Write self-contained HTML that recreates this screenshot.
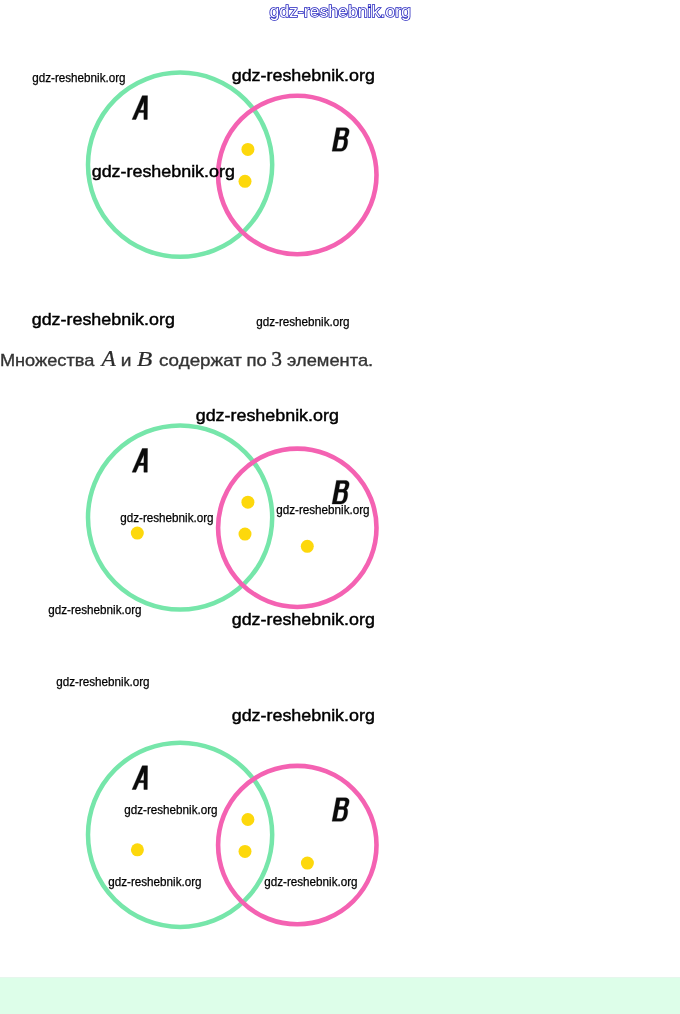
<!DOCTYPE html>
<html><head><meta charset="utf-8">
<style>
html,body{margin:0;padding:0;background:#fff;}
body{width:680px;height:1014px;overflow:hidden;position:relative;font-family:"Liberation Sans",sans-serif;}
svg{position:absolute;left:0;top:0;will-change:transform;}
.wl{font-family:"Liberation Sans",sans-serif;font-size:16.9px;fill:#000;stroke:#000;stroke-width:0.45px;}
.ws{font-family:"Liberation Sans",sans-serif;font-size:12px;fill:#000;stroke:#000;stroke-width:0.25px;}
.t{font-family:"Liberation Sans",sans-serif;font-size:17px;fill:#343434;stroke:#343434;stroke-width:0.35px;}
.m{font-family:"Liberation Serif",serif;font-style:italic;font-size:22px;fill:#2c2c2c;stroke:#2c2c2c;stroke-width:0.2px;}
.n{font-family:"Liberation Serif",serif;font-size:21.5px;fill:#2c2c2c;stroke:#2c2c2c;stroke-width:0.3px;}
.band{position:absolute;left:0;top:977px;width:680px;height:37px;background:#ddfee9;border-top:1px solid #e6f6ed;box-sizing:border-box;}
</style></head>
<body>
<div class="band"></div>
<svg width="680" height="1014" viewBox="0 0 680 1014">
<defs>
<g id="venn">
<circle cx="180.1" cy="164.7" r="92.1" fill="none" stroke="#76e6aa" stroke-width="4.5"/>
<circle cx="297.3" cy="175.0" r="79.2" fill="none" stroke="#f462b2" stroke-width="4.6"/>
<circle cx="247.9" cy="149.4" r="6.5" fill="#fdd80c"/>
<circle cx="245.0" cy="181.3" r="6.5" fill="#fdd80c"/>
<path fill="#0b0b0b" stroke="#0b0b0b" stroke-width="0.4" fill-rule="evenodd" d="M132.1,119.4 L142.3,95.7 L147.5,95.7 L147.3,119.4 L143.9,119.4 L143.9,112.6 L138.8,112.6 L135.9,119.4 Z M140.0,110.3 L143.9,110.3 L144.0,101.6 Z"/>
<path fill="#0b0b0b" stroke="#0b0b0b" stroke-width="0.3" fill-rule="evenodd" d="M332.06,151.2 L336.47,127.65 H344.8 C348.2,127.65 349.6,129.5 349.1,132.2 C348.7,134.6 347.9,136.4 346.3,137.7 C347.6,138.8 348.0,140.8 347.6,143.5 C347.0,147.6 345.0,151.2 341.0,151.2 Z M340.0,130.6 H343.8 C345.2,130.6 345.6,131.4 345.3,132.8 C344.9,135 344.2,136.5 342.6,136.5 H338.9 Z M338.35,139.4 H342.6 C344.0,139.4 344.4,140.5 344.1,142.2 C343.6,145.5 343.0,148.5 340.6,148.5 H336.6 Z"/>
</g>
</defs>
<use href="#venn"/>
<use href="#venn" y="352.8"/>
<use href="#venn" y="670.1"/>
<circle cx="137.3" cy="533.1" r="6.5" fill="#fdd80c"/>
<circle cx="307.3" cy="546.3" r="6.5" fill="#fdd80c"/>
<circle cx="137.4" cy="849.8" r="6.5" fill="#fdd80c"/>
<circle cx="307.4" cy="863.1" r="6.5" fill="#fdd80c"/>

<!-- top outlined watermark -->
<text class="wl" x="269.4" y="16.6" textLength="141.4" lengthAdjust="spacingAndGlyphs" style="fill:#1c1cbc;stroke:#1c1cbc;stroke-width:1.5px">gdz-reshebnik.org</text>
<text class="wl" x="269.4" y="16.6" textLength="141.4" lengthAdjust="spacingAndGlyphs" style="fill:#fff;stroke:none">gdz-reshebnik.org</text>

<!-- large watermarks -->
<text class="wl" x="231.7" y="80.9" textLength="143.2" lengthAdjust="spacingAndGlyphs">gdz-reshebnik.org</text>
<text class="wl" x="91.7" y="176.9" textLength="143.2" lengthAdjust="spacingAndGlyphs">gdz-reshebnik.org</text>
<text class="wl" x="31.7" y="324.9" textLength="143.2" lengthAdjust="spacingAndGlyphs">gdz-reshebnik.org</text>
<text class="wl" x="195.7" y="420.9" textLength="143.2" lengthAdjust="spacingAndGlyphs">gdz-reshebnik.org</text>
<text class="wl" x="231.7" y="624.9" textLength="143.2" lengthAdjust="spacingAndGlyphs">gdz-reshebnik.org</text>
<text class="wl" x="231.7" y="720.9" textLength="143.2" lengthAdjust="spacingAndGlyphs">gdz-reshebnik.org</text>

<!-- small watermarks -->
<text class="ws" x="32.2" y="82.2" textLength="93.4" lengthAdjust="spacingAndGlyphs">gdz-reshebnik.org</text>
<text class="ws" x="256.2" y="326.2" textLength="93.4" lengthAdjust="spacingAndGlyphs">gdz-reshebnik.org</text>
<text class="ws" x="120.2" y="522.2" textLength="93.4" lengthAdjust="spacingAndGlyphs">gdz-reshebnik.org</text>
<text class="ws" x="276.2" y="514.2" textLength="93.4" lengthAdjust="spacingAndGlyphs">gdz-reshebnik.org</text>
<text class="ws" x="48.2" y="614.2" textLength="93.4" lengthAdjust="spacingAndGlyphs">gdz-reshebnik.org</text>
<text class="ws" x="56.2" y="686.2" textLength="93.4" lengthAdjust="spacingAndGlyphs">gdz-reshebnik.org</text>
<text class="ws" x="124.2" y="814.2" textLength="93.4" lengthAdjust="spacingAndGlyphs">gdz-reshebnik.org</text>
<text class="ws" x="108.2" y="886.2" textLength="93.4" lengthAdjust="spacingAndGlyphs">gdz-reshebnik.org</text>
<text class="ws" x="264.2" y="886.2" textLength="93.4" lengthAdjust="spacingAndGlyphs">gdz-reshebnik.org</text>

<!-- sentence -->
<text class="t" x="-0.14" y="365.7" textLength="94.5" lengthAdjust="spacingAndGlyphs">Множества</text>
<text class="m" x="101.5" y="365.7" style="font-size:23.5px">A</text>
<text class="t" x="120.8" y="365.7" textLength="10.7" lengthAdjust="spacingAndGlyphs">и</text>
<text class="m" x="136.8" y="365.7" textLength="15.6" lengthAdjust="spacingAndGlyphs">B</text>
<text class="t" x="159.0" y="365.7" textLength="82.8" lengthAdjust="spacingAndGlyphs">содержат</text>
<text class="t" x="246.4" y="365.7" textLength="20.3" lengthAdjust="spacingAndGlyphs">по</text>
<text class="n" x="271.3" y="365.5">3</text>
<text class="t" x="287.1" y="365.7" textLength="86.05" lengthAdjust="spacingAndGlyphs">элемента.</text>
</svg>
</body></html>
